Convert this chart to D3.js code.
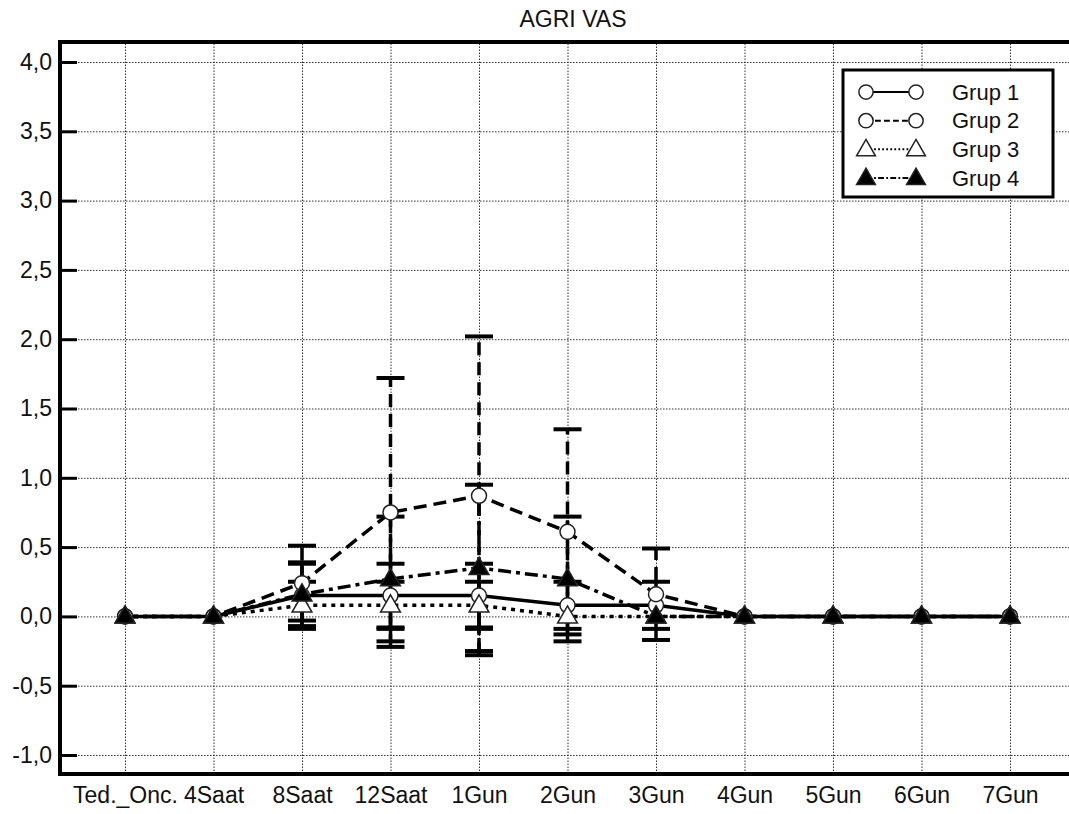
<!DOCTYPE html>
<html>
<head>
<meta charset="utf-8">
<script src="https://cdn.jsdelivr.net/npm/d3@7"></script>
<style>
  body { margin: 0; background: #fff; }
  svg text { font-family: "Liberation Sans", Arial, sans-serif; fill: #111; }
</style>
</head>
<body>
<div id="chart"></div>
<script>
const categories = ["Ted._Onc.", "4Saat", "8Saat", "12Saat", "1Gun", "2Gun", "3Gun", "4Gun", "5Gun", "6Gun", "7Gun"];
const grup1 = [0, 0, 0.15, 0.15, 0.15, 0.08, 0.08, 0, 0, 0, 0];
const grup1Sd = [0, 0, 0.23, 0.23, 0.23, 0.17, 0.17, 0, 0, 0, 0];
const grup2 = [0, 0, 0.24, 0.75, 0.87, 0.61, 0.16, 0, 0, 0, 0];
const grup2Sd = [0, 0, 0.27, 0.97, 1.15, 0.74, 0.33, 0, 0, 0, 0];
const grup3 = [0, 0, 0.08, 0.08, 0.08, 0, 0, 0, 0, 0, 0];
const grup3Sd = [0, 0, 0.17, 0.17, 0.17, 0, 0, 0, 0, 0, 0];
const grup4 = [0, 0, 0.16, 0.27, 0.35, 0.27, 0, 0, 0, 0, 0];
const grup4Sd = [0, 0, 0.23, 0.45, 0.6, 0.45, 0, 0, 0, 0, 0];
const yTicks = [-1, -0.5, 0, 0.5, 1, 1.5, 2, 2.5, 3, 3.5, 4];
const groupNames = ["Grup 1", "Grup 2", "Grup 3", "Grup 4"];

const width = 1069, height = 814;
const frame = { left: 60, top: 42, right: 1080, bottom: 774 };
const fontSize = 23;

// series styles: dash pattern + marker
const groups = [
  { name: groupNames[0], mean: grup1, sd: grup1Sd, dash: null, marker: "circle", fill: "#fff" },
  { name: groupNames[1], mean: grup2, sd: grup2Sd, dash: "13,7", marker: "circle", fill: "#fff" },
  { name: groupNames[2], mean: grup3, sd: grup3Sd, dash: "4,5", marker: "triangle", fill: "#fff" },
  { name: groupNames[3], mean: grup4, sd: grup4Sd, dash: "13,5,4,5", marker: "triangle", fill: "#000" }
];

const svg = d3.select("#chart").append("svg")
  .attr("width", width)
  .attr("height", height);

const x = d3.scalePoint().domain(categories).range([125, 1010]);
const y = d3.scaleLinear().domain([-1, 4]).range([755, 62]);

const comma = d3.formatLocale({ decimal: ",", thousands: ".", grouping: [3], currency: ["", ""], minus: "-" }).format(".1f");

// grid
svg.append("g")
  .attr("transform", `translate(${frame.left},0)`)
  .call(d3.axisLeft(y).tickValues(yTicks).tickSize(-(frame.right - frame.left)).tickFormat(""))
  .call(g => g.select(".domain").remove())
  .call(g => g.selectAll("line").attr("stroke", "#333").attr("stroke-width", 1).attr("stroke-dasharray", "1.5,1.5"));

svg.append("g")
  .attr("transform", `translate(0,${frame.bottom})`)
  .call(d3.axisBottom(x).tickSize(-(frame.bottom - frame.top)).tickFormat(""))
  .call(g => g.select(".domain").remove())
  .call(g => g.selectAll("line").attr("stroke", "#333").attr("stroke-width", 1).attr("stroke-dasharray", "1.5,1.5"));

// y axis ticks + labels
svg.append("g")
  .attr("transform", `translate(${frame.left},0)`)
  .call(d3.axisLeft(y).tickValues(yTicks).tickSize(-17).tickPadding(8).tickFormat(comma))
  .call(g => g.select(".domain").remove())
  .call(g => g.selectAll("line").attr("stroke", "#000").attr("stroke-width", 3))
  .call(g => g.selectAll("text").attr("font-size", fontSize));

// x labels
svg.append("g")
  .attr("transform", `translate(0,${frame.bottom})`)
  .call(d3.axisBottom(x).tickSize(0).tickPadding(13))
  .call(g => g.select(".domain").remove())
  .call(g => g.selectAll("text").attr("font-size", fontSize));

// frame
svg.append("rect")
  .attr("x", frame.left).attr("y", frame.top)
  .attr("width", frame.right - frame.left).attr("height", frame.bottom - frame.top)
  .attr("fill", "none").attr("stroke", "#000").attr("stroke-width", 4);

// title
svg.append("text")
  .attr("x", 573).attr("y", 27)
  .attr("text-anchor", "middle")
  .attr("font-size", fontSize)
  .text("AGRI VAS");

const plot = svg.append("g");

// error bars (mean ± sd), caps solid
groups.forEach(gr => {
  const bars = categories.map((c, i) => ({ c, m: gr.mean[i], s: gr.sd[i] })).filter(d => d.s > 0);
  const eb = plot.append("g").attr("stroke", "#000").attr("fill", "none");
  eb.selectAll(".v").data(bars).enter().append("line")
    .attr("x1", d => x(d.c)).attr("x2", d => x(d.c))
    .attr("y1", d => y(d.m - d.s)).attr("y2", d => y(d.m + d.s))
    .attr("stroke-width", 3.5)
    .attr("stroke-dasharray", gr.dash);
  eb.selectAll(".cap-hi").data(bars).enter().append("line")
    .attr("x1", d => x(d.c) - 14).attr("x2", d => x(d.c) + 14)
    .attr("y1", d => y(d.m + d.s)).attr("y2", d => y(d.m + d.s))
    .attr("stroke-width", 4);
  eb.selectAll(".cap-lo").data(bars).enter().append("line")
    .attr("x1", d => x(d.c) - 14).attr("x2", d => x(d.c) + 14)
    .attr("y1", d => y(d.m - d.s)).attr("y2", d => y(d.m - d.s))
    .attr("stroke-width", 4);
});

// lines
const line = d3.line().x((d, i) => x(categories[i])).y(d => y(d));
groups.forEach(gr => {
  plot.append("path")
    .datum(gr.mean)
    .attr("d", line)
    .attr("fill", "none")
    .attr("stroke", "#000")
    .attr("stroke-width", 3.5)
    .attr("stroke-dasharray", gr.dash);
});

const tri = d3.symbol().type(d3.symbolTriangle);

function drawMarker(g, type, fill, cx, cy, scale) {
  if (type === "circle") {
    g.append("circle").attr("cx", cx).attr("cy", cy).attr("r", 7.5 * scale)
      .attr("fill", fill).attr("stroke", "#222").attr("stroke-width", 1.5);
  } else {
    g.append("path").attr("d", tri.size(170 * scale * scale)())
      .attr("transform", `translate(${cx},${cy + 1})`)
      .attr("fill", fill).attr("stroke", "#222").attr("stroke-width", 1.5);
  }
}

// markers
groups.forEach(gr => {
  const mg = plot.append("g");
  gr.mean.forEach((v, i) => drawMarker(mg, gr.marker, gr.fill, x(categories[i]), y(v), 1));
});

// legend
const lg = svg.append("g");
lg.append("rect")
  .attr("x", 843).attr("y", 70).attr("width", 210).attr("height", 127)
  .attr("fill", "#fff").attr("stroke", "#000").attr("stroke-width", 3);
const rowY = d3.scalePoint().domain(groupNames).range([92, 178]);
groups.forEach(gr => {
  const ry = rowY(gr.name);
  lg.append("line")
    .attr("x1", 866).attr("x2", 916).attr("y1", ry).attr("y2", ry)
    .attr("stroke", "#000").attr("stroke-width", 2)
    .attr("stroke-dasharray", gr.dash ? gr.dash.split(",").map(v => v * 0.45).join(",") : null);
  drawMarker(lg, gr.marker, gr.fill, 866, ry, 0.95);
  drawMarker(lg, gr.marker, gr.fill, 916, ry, 0.95);
  lg.append("text")
    .attr("x", 952).attr("y", ry).attr("dy", "0.35em")
    .attr("font-size", fontSize - 1)
    .text(gr.name);
});
</script>
</body>
</html>
